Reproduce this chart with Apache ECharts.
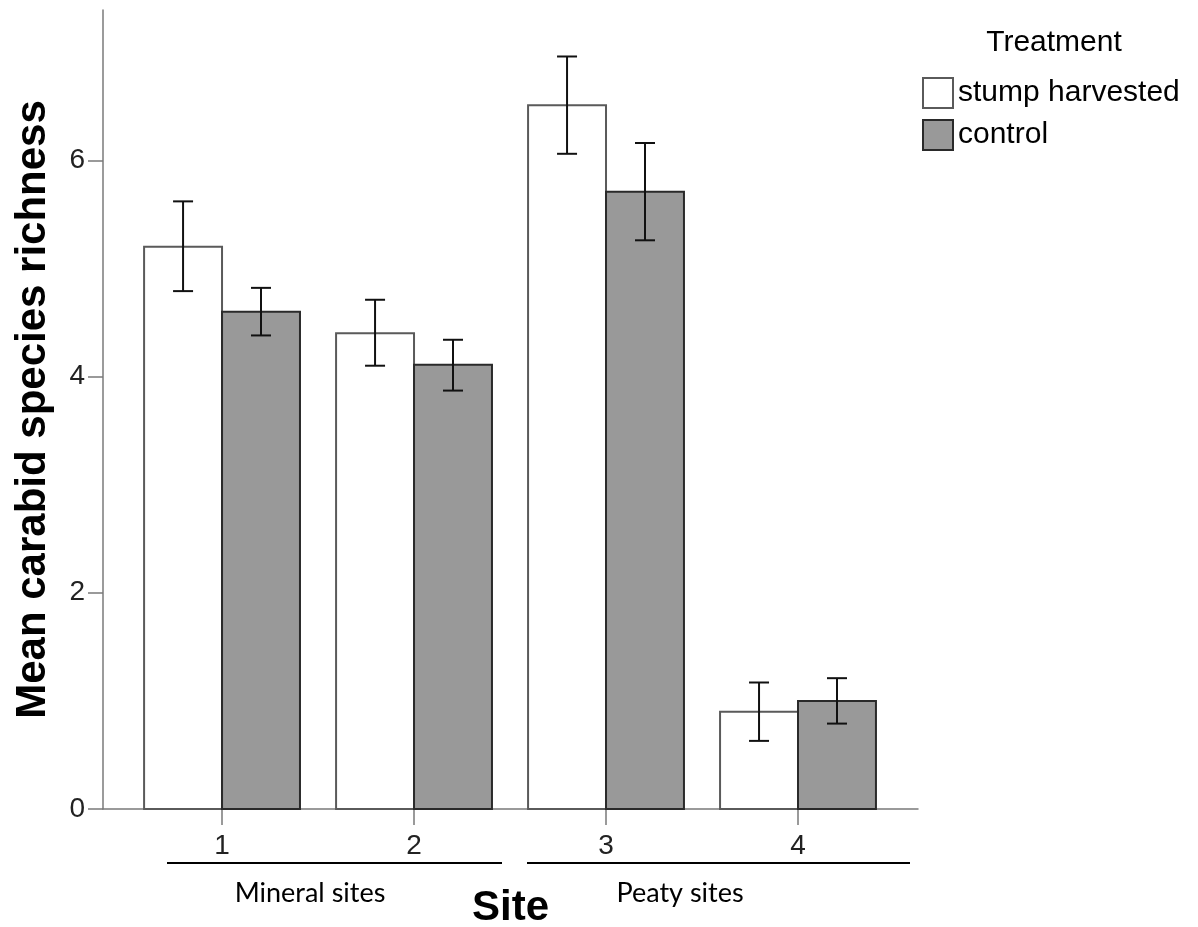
<!DOCTYPE html>
<html>
<head>
<meta charset="utf-8">
<script src="https://cdn.jsdelivr.net/npm/echarts@6/dist/echarts.min.js"></script>
<style>
html,body{margin:0;padding:0;background:#fff;}
#chart{width:1198px;height:927px;}
</style>
</head>
<body>
<div id="chart"></div>
<script>
// ---- data ----
const sites = [1, 2, 3, 4];
const siteLabels = ['1', '2', '3', '4'];
const seriesNames = ['stump harvested', 'control'];
const harvested = [5.20, 4.40, 6.51, 0.90];
const harvestedLow = [4.79, 4.10, 6.06, 0.63];
const harvestedHigh = [5.62, 4.71, 6.96, 1.17];
const control = [4.60, 4.11, 5.71, 1.00];
const controlLow = [4.38, 3.87, 5.26, 0.79];
const controlHigh = [4.82, 4.34, 6.16, 1.21];
const yTicks = [0, 2, 4, 6];
const groupNames = ['Mineral sites', 'Peaty sites'];
const legendTitle = 'Treatment';
const xTitle = 'Site';
const yTitle = 'Mean carabid species richness';

// ---- style ----
const FONT = '"Liberation Sans", Arial, sans-serif';
const BAR_W = 0.406;          // bar width in x-axis units
const CAP = 10;               // half cap width in px
const AXIS_COLOR = '#7a7a7a';
const WHITE_STYLE = { fill: '#ffffff', stroke: '#5a5a5a' };
const GRAY_STYLE = { fill: '#999999', stroke: '#2a2a2a' };

function barRenderer(side, st) {
  return function (params, api) {
    const x = api.value(0), v = api.value(1);
    const p0 = api.coord([x, 0]);
    const p1 = api.coord([x + side * BAR_W, v]);
    return {
      type: 'rect',
      shape: { x: Math.min(p0[0], p1[0]), y: p1[1], width: Math.abs(p1[0] - p0[0]), height: p0[1] - p1[1] },
      style: { fill: st.fill, stroke: st.stroke, lineWidth: 2 }
    };
  };
}

function errRenderer(side) {
  return function (params, api) {
    const x = api.value(0) + side * BAR_W / 2;
    const lo = api.coord([x, api.value(1)]);
    const hi = api.coord([x, api.value(2)]);
    const st = { stroke: '#111', lineWidth: 2 };
    return {
      type: 'group',
      children: [
        { type: 'line', shape: { x1: lo[0], y1: lo[1], x2: hi[0], y2: hi[1] }, style: st },
        { type: 'line', shape: { x1: lo[0] - CAP, y1: lo[1], x2: lo[0] + CAP, y2: lo[1] }, style: st },
        { type: 'line', shape: { x1: hi[0] - CAP, y1: hi[1], x2: hi[0] + CAP, y2: hi[1] }, style: st }
      ]
    };
  };
}

const chart = echarts.init(document.getElementById('chart'), null, { renderer: 'canvas' });

const option = {
  animation: false,
  backgroundColor: '#ffffff',
  grid: { left: 103, right: 280, top: 10, bottom: 118, containLabel: false, outerBoundsMode: 'none' },
  xAxis: {
    type: 'value',
    min: 0.38,
    max: 4.625,
    name: xTitle,
    nameLocation: 'middle',
    nameGap: 78,
    nameTextStyle: { fontFamily: FONT, fontSize: 42, fontWeight: 'bold', color: '#000' },
    axisLine: { show: true, lineStyle: { color: AXIS_COLOR, width: 1.5 } },
    axisTick: { show: true, length: 16, lineStyle: { color: AXIS_COLOR, width: 1.5 }, customValues: sites },
    axisLabel: {
      customValues: sites,
      margin: 23,
      fontFamily: FONT, fontSize: 28, color: '#222',
      formatter: function (v) { return siteLabels[sites.indexOf(v)] || ''; }
    },
    splitLine: { show: false }
  },
  yAxis: {
    type: 'value',
    min: 0,
    max: 7.39,
    name: yTitle,
    nameLocation: 'middle',
    nameRotate: 90,
    nameGap: 49,
    nameTextStyle: { fontFamily: FONT, fontSize: 42, fontWeight: 'bold', color: '#000' },
    axisLine: { show: true, lineStyle: { color: AXIS_COLOR, width: 1.5 } },
    axisTick: { show: true, length: 15, lineStyle: { color: AXIS_COLOR, width: 1.5 }, customValues: yTicks },
    axisLabel: { customValues: yTicks, margin: 18, fontFamily: FONT, fontSize: 28, color: '#222' },
    splitLine: { show: false }
  },
  legend: {
    orient: 'vertical',
    left: 922,
    top: 77,
    padding: 0,
    itemWidth: 30,
    itemHeight: 30,
    itemGap: 10,
    selectedMode: false,
    textStyle: { fontFamily: FONT, fontSize: 30, lineHeight: 30, color: '#000' },
    data: [
      { name: seriesNames[0], icon: 'rect', itemStyle: { color: WHITE_STYLE.fill, borderColor: WHITE_STYLE.stroke, borderWidth: 2 } },
      { name: seriesNames[1], icon: 'rect', itemStyle: { color: GRAY_STYLE.fill, borderColor: GRAY_STYLE.stroke, borderWidth: 2 } }
    ]
  },
  graphic: [
    {
      type: 'text', x: 1054, y: 43,
      style: { text: legendTitle, fontFamily: FONT, fontSize: 30, fill: '#000', align: 'center', verticalAlign: 'middle' }
    },
    { type: 'line', shape: { x1: 167, y1: 863, x2: 502, y2: 863 }, style: { stroke: '#000', lineWidth: 2 } },
    { type: 'line', shape: { x1: 527, y1: 863, x2: 910, y2: 863 }, style: { stroke: '#000', lineWidth: 2 } },
    {
      type: 'text', x: 310, y: 893,
      style: { text: groupNames[0], fontFamily: 'Lato, "Open Sans", sans-serif', fontSize: 27, fill: '#000', align: 'center', verticalAlign: 'middle' }
    },
    {
      type: 'text', x: 680, y: 893,
      style: { text: groupNames[1], fontFamily: 'Lato, "Open Sans", sans-serif', fontSize: 27, fill: '#000', align: 'center', verticalAlign: 'middle' }
    }
  ],
  series: [
    {
      name: seriesNames[0], type: 'custom',
      itemStyle: { color: WHITE_STYLE.fill, borderColor: WHITE_STYLE.stroke, borderWidth: 2 },
      renderItem: barRenderer(-1, WHITE_STYLE),
      encode: { x: 0, y: 1 },
      data: sites.map((s, i) => [s, harvested[i]])
    },
    {
      name: seriesNames[1], type: 'custom',
      itemStyle: { color: GRAY_STYLE.fill, borderColor: GRAY_STYLE.stroke, borderWidth: 2 },
      renderItem: barRenderer(1, GRAY_STYLE),
      encode: { x: 0, y: 1 },
      data: sites.map((s, i) => [s, control[i]])
    },
    {
      name: 'harvested error', type: 'custom',
      renderItem: errRenderer(-1),
      encode: { x: 0, y: [1, 2] },
      data: sites.map((s, i) => [s, harvestedLow[i], harvestedHigh[i]]),
      z: 5
    },
    {
      name: 'control error', type: 'custom',
      renderItem: errRenderer(1),
      encode: { x: 0, y: [1, 2] },
      data: sites.map((s, i) => [s, controlLow[i], controlHigh[i]]),
      z: 5
    }
  ]
};
chart.setOption(option);
</script>
</body>
</html>
